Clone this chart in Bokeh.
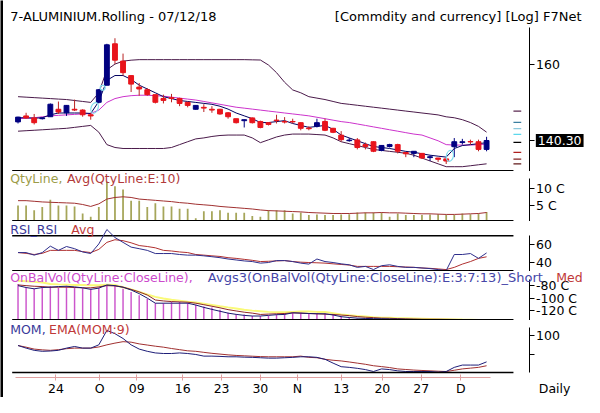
import math
from bokeh.plotting import figure
from bokeh.layouts import column, row
from bokeh.models import ColumnDataSource, Range1d, FixedTicker, Label, CustomJSTickFormatter
from bokeh.embed import file_html
from bokeh.resources import INLINE

FONT = "DejaVu Sans"

# ---------------- data ----------------
opens = [144.9, 146.4, 145.9, 145.7, 146.2, 148.1, 147.2, 148.1, 147.9, 146.7,
         149.9, 154.4, 165.9, 161.0, 157.0, 153.9, 153.2, 151.9, 150.9, 151.1,
         150.9, 149.9, 148.1, 148.6, 148.1, 148.1, 147.2, 145.7, 145.2, 145.9,
         145.0, 144.7, 145.35, 145.0, 145.0, 144.7, 143.35, 143.8, 145.0, 143.3,
         141.6, 140.25, 140.45, 139.3, 140.0, 137.9, 138.85, 139.3, 137.4, 137.2,
         137.2, 136.2, 136.1, 135.9, 138.8, 139.8, 140.05, 140.0, 138.15]
highs = [146.2, 147.2, 146.9, 146.0, 149.6, 150.1, 149.2, 150.6, 148.1, 147.2,
         153.4, 165.9, 167.5, 163.1, 157.0, 155.0, 153.6, 151.9, 151.9, 152.1,
         151.1, 149.9, 149.2, 149.4, 148.9, 148.2, 147.4, 145.7, 145.5, 146.0,
         145.2, 144.8, 146.7, 146.1, 145.7, 144.8, 143.8, 145.7, 145.7, 143.4,
         142.6, 140.9, 140.9, 139.8, 140.1, 139.2, 139.5, 139.5, 137.45, 137.7,
         137.3, 136.7, 136.15, 135.95, 140.9, 140.7, 140.5, 140.5, 141.2]
lows = [144.5, 145.7, 144.25, 145.5, 146.2, 146.9, 146.4, 147.65, 146.2, 145.45,
        149.6, 154.4, 160.2, 157.0, 152.6, 151.6, 151.6, 149.6, 149.6, 149.9,
        148.9, 148.6, 148.0, 147.4, 147.2, 146.7, 145.7, 144.5, 143.5, 144.5,
        143.3, 144.0, 144.5, 144.5, 144.5, 142.8, 142.8, 143.5, 142.6, 142.1,
        140.0, 140.0, 138.15, 138.15, 137.5, 137.7, 138.6, 137.2, 136.3, 136.3,
        135.9, 135.4, 135.2, 134.7, 136.3, 139.3, 139.3, 137.7, 137.7]
closes = [146.1, 145.9, 144.7, 145.9, 149.4, 147.4, 149.1, 147.9, 146.7, 146.4,
          153.2, 165.6, 161.25, 157.8, 154.7, 153.4, 151.9, 149.9, 150.4, 150.9,
          149.6, 149.1, 149.1, 148.4, 147.9, 146.9, 146.2, 144.7, 145.45, 144.7,
          143.5, 144.25, 145.2, 144.85, 144.9, 143.3, 143.2, 144.7, 142.8, 142.3,
          140.5, 140.4, 138.6, 138.85, 137.7, 139.1, 139.3, 137.7, 137.1, 137.7,
          136.1, 136.4, 135.8, 135.4, 140.0, 140.0, 139.95, 138.15, 140.3]

bb_upper = [151.37, 151.24, 151.12, 150.99, 150.87, 150.74, 150.62, 150.37, 150.12, 149.87,
            152.39, 158.58, 160.17, 160.98, 161.25, 161.4, 161.4, 161.4, 161.4, 161.4,
            161.4, 161.4, 161.4, 161.4, 161.4, 161.4, 161.4, 161.4, 161.4, 161.35,
            161.3, 159.91, 157.8, 155.19, 153.15, 152.39, 151.37, 150.99, 150.62, 150.12,
            149.62, 149.38, 149.13, 148.88, 148.63, 148.39, 148.14, 147.89, 147.64, 147.4,
            147.15, 146.91, 146.66, 146.18, 145.94, 145.45, 144.73, 143.77, 142.34]
bb_mid = [145.7, 145.82, 145.94, 146.18, 146.42, 146.55, 146.67, 146.79, 146.91, 147.03,
          147.89, 149.87, 150.87, 151.37, 151.63, 151.75, 151.75, 151.63, 151.5, 151.24,
          150.99, 150.74, 150.49, 150.12, 149.75, 149.38, 149.0, 148.63, 148.39, 148.14,
          147.89, 147.64, 147.4, 147.15, 146.91, 146.67, 146.42, 146.06, 145.7, 145.33,
          144.97, 144.73, 144.37, 144.01, 143.65, 143.29, 142.93, 142.58, 142.22, 141.87,
          141.63, 140.93, 140.23, 139.3, 139.19, 139.19, 139.19, 139.3, 139.42]
bb_lower = [142.58, 142.7, 142.81, 142.93, 143.05, 143.17, 143.29, 143.53, 143.77, 144.01,
            142.34, 139.3, 138.61, 138.37, 138.37, 138.37, 138.37, 138.37, 138.37, 138.61,
            139.3, 140.0, 140.69, 140.93, 141.28, 141.52, 141.63, 141.63, 141.63, 140.93,
            139.77, 140.46, 141.16, 141.63, 141.87, 141.87, 141.87, 141.75, 141.63, 140.93,
            140.0, 139.53, 139.07, 138.61, 138.14, 137.91, 137.68, 137.46, 137.23, 136.77,
            136.09, 135.41, 134.74, 134.07, 134.07, 134.07, 134.29, 134.52, 134.74]
fast_avg = [145.94, 145.94, 145.82, 145.94, 146.67, 147.15, 147.15, 147.15, 147.15, 147.03,
            150.12, 155.71, 157.02, 157.02, 155.97, 154.42, 153.4, 152.39, 151.37, 150.87,
            150.37, 150.12, 149.87, 149.62, 149.38, 148.88, 148.14, 147.15, 146.42, 145.7,
            144.73, 144.73, 144.97, 145.21, 144.49, 144.01, 143.53, 143.77, 144.01, 143.05,
            141.63, 140.93, 140.23, 139.53, 138.84, 138.61, 138.37, 138.02, 137.68, 137.46,
            137.11, 136.77, 136.54, 136.32, 138.37, 139.07, 139.3, 139.53, 139.77]

signal_x = [9.48, 10.48, 53.46]
signal_y = [148.46, 153.73, 136.61]
last_price = 140.30
side_levels = [147.64, 144.80, 143.22, 141.80, 139.84, 137.46, 135.86, 134.74]
side_colors = ["#5a2850", "#3c7fa0", "#8cc8dc", "#5cd8ec", "#000000", "#b02020", "#802020", "#601818"]

qty = [4.90, 4.90, 3.43, 4.41, 6.67, 4.90, 4.90, 4.61, 2.45, 1.47,
       4.41, 12.25, 10.78, 9.80, 6.37, 6.37, 4.41, 5.59, 4.61, 4.61,
       3.92, 3.92, 0.98, 3.14, 3.14, 3.43, 2.65, 2.65, 2.65, 1.67,
       1.47, 3.43, 3.43, 3.43, 2.45, 2.75, 1.96, 2.16, 1.96, 1.96,
       2.16, 2.25, 2.75, 2.75, 2.75, 2.75, 1.47, 2.45, 1.96, 1.96,
       1.96, 2.16, 2.25, 1.96, 1.96, 2.45, 2.25, 2.45, 2.94]
qty_avg = [6.37, 6.37, 6.18, 5.98, 5.88, 5.78, 5.69, 5.59, 5.20, 4.61,
           5.39, 6.86, 7.35, 7.55, 7.35, 6.86, 6.67, 6.47, 6.27, 6.08,
           5.78, 5.59, 5.29, 5.10, 4.90, 4.61, 4.41, 4.22, 4.02, 3.82,
           3.53, 3.33, 3.24, 3.14, 3.04, 2.94, 2.75, 2.65, 2.55, 2.45,
           2.45, 2.45, 2.55, 2.65, 2.65, 2.75, 2.65, 2.65, 2.55, 2.45,
           2.35, 2.35, 2.25, 2.16, 2.16, 2.25, 2.35, 2.45, 2.75]

rsi = [50.9, 50.9, 48.0, 50.9, 58.2, 53.4, 57.8, 55.3, 51.6, 49.8,
       60.7, 77.1, 68.0, 62.5, 57.1, 55.3, 53.4, 49.8, 49.8, 49.8,
       48.7, 48.0, 48.0, 47.2, 46.2, 45.1, 43.6, 42.5, 41.4, 40.7,
       38.9, 39.6, 41.8, 41.8, 40.7, 38.9, 37.8, 43.6, 40.7, 39.6,
       38.1, 37.0, 34.1, 35.2, 31.6, 36.0, 37.0, 35.2, 34.1, 34.1,
       33.4, 32.7, 31.6, 30.5, 48.7, 48.7, 49.8, 44.3, 50.5]
rsi_avg = [50.9, 50.0, 48.7, 50.0, 53.4, 53.4, 53.4, 53.4, 52.0, 50.9,
           54.5, 62.5, 65.5, 64.4, 62.0, 58.9, 57.8, 56.3, 53.4, 52.7,
           51.6, 50.9, 48.7, 48.0, 47.2, 46.5, 45.1, 44.3, 43.2, 42.1,
           40.7, 41.0, 41.4, 41.8, 40.7, 40.0, 39.6, 39.3, 38.9, 38.1,
           37.4, 36.7, 35.2, 35.2, 35.2, 35.2, 35.2, 34.8, 34.5, 34.1,
           33.4, 33.0, 32.3, 31.6, 34.1, 37.8, 40.7, 44.3, 46.1]

obv = [-77.4, -83.5, -85.1, -81.0, -81.0, -83.5, -80.0, -82.5, -84.0, -85.1,
       -83.5, -78.4, -80.0, -85.1, -90.2, -95.3, -101.5, -108.1, -108.1, -105.6,
       -105.6, -107.1, -110.7, -113.3, -114.8, -118.4, -123.5, -126.1, -126.1, -128.6,
       -128.6, -127.6, -126.1, -123.5, -123.5, -123.5, -124.6, -124.6, -124.6, -126.1,
       -128.6, -131.2, -132.2, -132.2, -133.8, -132.2, -133.8, -133.8, -133.8, -133.8,
       -133.8, -134.8, -134.8, -134.8, -133.8, -133.8, -133.8, -133.8, -133.8]
obv_long = [-72.3, -73.0, -74.0, -75.0, -77.4, -78.0, -78.4, -79.0, -79.0, -79.5,
            -79.5, -78.4, -79.0, -82.5, -86.0, -90.0, -94.3, -98.0, -100.5, -102.5,
            -104.0, -105.6, -107.0, -109.0, -111.0, -113.0, -114.8, -116.5, -118.5, -120.0,
            -121.0, -122.0, -122.5, -122.5, -122.0, -121.5, -121.5, -122.0, -122.0, -124.0,
            -126.0, -127.5, -128.6, -129.5, -130.5, -131.2, -131.5, -132.0, -132.2, -132.5,
            -132.8, -133.3, -133.8, -133.8, -134.0, -134.3, -134.5, -134.8, -134.8]
obv_short = [-80.0, -83.0, -85.1, -83.0, -82.5, -81.5, -81.0, -82.0, -83.5, -86.0,
             -84.0, -78.9, -80.0, -82.5, -87.0, -92.8, -100.0, -108.1, -108.1, -108.1,
             -108.1, -108.1, -111.0, -114.8, -118.0, -121.0, -124.0, -126.0, -127.6, -128.6,
             -128.6, -127.6, -126.5, -126.1, -123.5, -124.0, -124.6, -125.0, -125.1, -127.0,
             -129.7, -131.0, -132.0, -132.5, -132.8, -133.0, -133.3, -133.5, -133.8, -134.0,
             -134.1, -134.2, -134.3, -134.3, -134.3, -134.3, -134.3, -134.3, -134.3]
obv_med = [-78.9, -80.0, -81.0, -81.5, -82.5, -82.5, -82.5, -83.0, -83.5, -83.5,
           -82.0, -80.0, -80.5, -82.5, -86.0, -90.0, -95.0, -103.0, -104.5, -105.5,
           -106.0, -106.5, -108.1, -110.5, -113.0, -115.5, -118.4, -120.5, -122.5, -124.0,
           -126.1, -125.5, -125.0, -124.6, -123.5, -124.0, -124.6, -125.1, -125.6, -126.1,
           -127.1, -128.0, -129.5, -130.5, -131.2, -132.0, -132.2, -132.8, -133.2, -133.5,
           -133.8, -133.8, -133.8, -134.0, -134.1, -134.3, -134.3, -134.3, -134.3]

mom = [94.75, 93.4, 92.25, 91.75, 91.9, 92.25, 93.4, 94.25, 93.4, 93.4,
       95.1, 102.6, 100.9, 98.4, 95.1, 92.9, 91.75, 90.9, 90.6, 90.6,
       90.9, 90.6, 90.1, 89.25, 89.25, 89.1, 88.9, 88.9, 88.7, 88.6,
       88.4, 88.2, 88.2, 88.4, 88.6, 88.9, 88.9, 88.6, 87.6, 85.6,
       83.75, 83.4, 82.9, 82.25, 81.25, 82.6, 82.25, 81.6, 81.25, 81.25,
       81.25, 81.25, 80.9, 81.25, 83.4, 84.6, 84.6, 84.6, 86.25]
mom_ema = [94.75, 93.9, 92.9, 92.5, 92.25, 92.6, 93.1, 93.4, 93.4, 93.4,
           94.0, 95.1, 96.0, 96.75, 96.5, 95.6, 95.0, 94.4, 93.9, 93.2,
           92.6, 92.0, 91.75, 91.2, 90.7, 90.3, 89.9, 89.6, 89.4, 89.2,
           89.0, 88.9, 88.9, 88.9, 88.9, 89.25, 88.6, 88.4, 87.6, 87.1,
           86.75, 86.2, 85.6, 85.0, 84.25, 83.8, 83.3, 82.6, 82.3, 82.0,
           81.8, 81.6, 81.4, 81.25, 81.9, 82.6, 83.0, 83.4, 84.25]

tick_labels = ["24", "O", "09", "16", "23", "30", "N", "13", "20", "27", "D"]
tick_pos = [4.7, 10.1, 14.7, 20.4, 25.2, 30.0, 34.6, 40.0, 45.1, 49.9, 54.8]

# ---------------- layout helpers (reference pixel geometry) ----------------
SX = 584 / 600.0
STRIP = 3
FIG_W = 581


def idx(xref):
    return (xref - 18.0) / 8.3


def scr(xref):
    return xref * SX - STRIP


def lin(yref, top, bot, vtop, vbot):
    return vbot + (bot - yref) / (bot - top) * (vtop - vbot)


def logv(yref, top, bot, vtop, vbot):
    a, b = math.log(vbot), math.log(vtop)
    return math.exp(a + (bot - yref) / (bot - top) * (b - a))


# panel frames: (top px, bottom px, value at top, value at bottom) in reference pixels
P_RNG = (5, 178, 177.28, 132.96)
Q_RNG = (178, 230, 15.29, 0.0)
R_RNG = (230, 282, 86.2, 29.4)
O_RNG = (282, 333, -57.4, -135.8)
M_RNG = (333, 413, 107.75, 67.75)

n = len(closes)
xs = list(range(n))
X_RANGE = Range1d(idx(3 / SX), idx(600))
AXIS_X = idx(543)
XL, XR = idx(12), idx(527)


def base_fig(h, **kw):
    p = figure(width=FIG_W, height=h, toolbar_location=None, output_backend="svg",
               min_border=0, outline_line_color=None,
               background_fill_color="white", border_fill_color="white", **kw)
    p.grid.visible = False
    return p


def panel(h, rng, log=False, bottom_axis=False):
    top, bot, vtop, vbot = rng
    p = base_fig(h, x_range=X_RANGE, y_range=Range1d(vbot, vtop),
                 y_axis_type="log" if log else "linear",
                 y_axis_location="right", x_axis_location="below" if bottom_axis else None)
    ax = p.yaxis[0]
    ax.fixed_location = AXIS_X
    ax.minor_tick_line_color = None
    ax.major_tick_in = 0
    ax.major_tick_out = 5
    ax.axis_line_color = "black"
    ax.major_tick_line_color = "black"
    ax.major_label_text_font = FONT
    ax.major_label_text_font_size = "12.5px"
    ax.major_label_text_color = "black"
    ax.major_label_standoff = 2
    return p


def sep(p, yval, w=1.6, color="black"):
    p.segment(x0=[XL], x1=[XR], y0=[yval], y1=[yval], line_color=color, line_width=w)


def label(p, cx, yval, text, color, size="12.5px", align="left", **kw):
    p.add_layout(Label(x=cx, y=yval, x_units="screen", text=text, text_color=color,
                       text_font=FONT, text_font_size=size, text_align=align,
                       text_baseline="middle", level="overlay", **kw))


# ---------------- top band ----------------
band = base_fig(5, x_range=Range1d(0, 1), y_range=Range1d(0, 1), x_axis_location=None,
                y_axis_location=None)
band.background_fill_color = "black"
band.border_fill_color = "black"

# ---------------- price panel (with title row) ----------------
pp = panel(166, P_RNG, log=True)
up = [c >= o for o, c in zip(opens, closes)]
src = ColumnDataSource(dict(
    x=xs, high=highs, low=lows,
    top=[max(o, c) for o, c in zip(opens, closes)],
    bottom=[min(o, c) for o, c in zip(opens, closes)],
    body=["#000080" if u else "#e8141c" for u in up],
    wick=["#000080" if u else "#b82424" for u in up],
))
pp.line(xs, bb_upper, line_color="#4a1a4a", line_width=1)
pp.line(xs, bb_lower, line_color="#4a1a4a", line_width=1)
pp.line(xs, bb_mid, line_color="#cc33cc", line_width=1)
pp.line(xs, fast_avg, line_color="#000060", line_width=1)
pp.segment(x0="x", x1="x", y0="high", y1="low", line_color="wick", line_width=1, source=src)
pp.vbar(x="x", top="top", bottom="bottom", width=0.6, fill_color="body", line_color="body",
        line_width=1, source=src)
pp.ellipse(x=signal_x, y=signal_y, width=[7, 5, 7], height=[11, 5, 11], width_units="screen",
           height_units="screen", angle=[-0.35, 0, -0.2], fill_color=None,
           line_color="#7fdcec", line_width=1.2)
pp.segment(x0=[idx(527)] * len(side_levels), x1=[idx(535)] * len(side_levels),
           y0=side_levels, y1=side_levels, line_color=side_colors, line_width=1.3)
sep(pp, logv(177.3, *P_RNG))
pax = pp.yaxis[0]
pax.ticker = FixedTicker(ticks=[160, last_price])
pax.formatter = CustomJSTickFormatter(code="return tick > 150 ? tick.toFixed(0) : '';")
pax.bounds = (P_RNG[3], logv(28, *P_RNG))
label(pp, scr(550), last_price, "140.30", "white", background_fill_color="black", padding=2)
ty = logv(16, *P_RNG)
label(pp, scr(10), ty, "7-ALUMINIUM.Rolling - 07/12/18", "black", size="13px")
label(pp, scr(597), ty, "[Commdity and currency] [Log] F7Net", "black", size="13px", align="right")

# ---------------- quantity panel ----------------
qp = panel(50, Q_RNG)
qp.vbar(x=xs, top=qty, bottom=0, width=0.22, fill_color="#a6a65a", line_color=None)
qp.line(xs, qty_avg, line_color="#a03030", line_width=1)
sep(qp, lin(229.3, *Q_RNG))
qax = qp.yaxis[0]
qax.ticker = FixedTicker(ticks=[0, 5, 10])
qax.major_label_overrides = {0: "", 5: "5 C", 10: "10 C"}
qax.bounds = (0, lin(185, *Q_RNG))
qy = lin(185, *Q_RNG)
label(qp, scr(10), qy, "QtyLine,", "#9c9c48")
label(qp, 63.5, qy, "Avg(QtyLine:E:10)", "#b23a3a")

# ---------------- RSI panel ----------------
rp = panel(50, R_RNG)
sep(rp, 70)
rp.line(xs, rsi_avg, line_color="#b03030", line_width=1)
rp.line(xs, rsi, line_color="#2e2e8c", line_width=1)
sep(rp, lin(281.3, *R_RNG))
rax = rp.yaxis[0]
rax.ticker = FixedTicker(ticks=[40, 60])
rax.bounds = (R_RNG[3], lin(245, *R_RNG))
ry = lin(238, *R_RNG)
label(rp, scr(10), ry, "RSI_RSI", "#3a3a9a")
label(rp, scr(72.7), ry, "Avg", "#c03838")

# ---------------- OBV panel ----------------
op = panel(49, O_RNG)
op.vbar(x=xs, top=obv, bottom=O_RNG[3], width=0.18, fill_color="#cc55cc", line_color=None)
op.line(xs, obv_long, line_color="#fafa78", line_width=2)
op.line(xs, obv_med, line_color="#902828", line_width=1)
op.line(xs, obv_short, line_color="#1a1a70", line_width=1)
sep(op, lin(332.3, *O_RNG))
oax = op.yaxis[0]
oax.ticker = FixedTicker(ticks=[-120, -100, -80])
oax.major_label_overrides = {-120: "-120 C", -100: "-100 C", -80: "-80 C"}
oax.bounds = (O_RNG[3], lin(290, *O_RNG))
oy = lin(288, *O_RNG)
label(op, scr(10), oy, "OnBalVol(QtyLine:CloseLine),", "#cc4acc")
label(op, scr(213), oy, "Avgs3(OnBalVol(QtyLine:CloseLine):E:3:7:13)_Short", "#4646a8", size="13px")
label(op, scr(571), oy, "Med", "#c03838")

# ---------------- MOM panel (with date axis) ----------------
mp = panel(77, M_RNG, bottom_axis=True)
mp.line(xs, mom_ema, line_color="#a03030", line_width=1)
mp.line(xs, mom, line_color="#1e1e78", line_width=1)
sep(mp, lin(387, *M_RNG))
max_ = mp.yaxis[0]
max_.ticker = FixedTicker(ticks=[90, 100])
max_.major_label_overrides = {90: "", 100: "100"}
max_.bounds = (lin(387, *M_RNG), lin(340, *M_RNG))
my = lin(342, *M_RNG)
label(mp, scr(10), my, "MOM,", "#3a3a9a")
label(mp, 45.5, my, "EMA(MOM:9)", "#c03838")
label(mp, scr(553), lin(403.5, *M_RNG), "Daily", "black")
xa = mp.xaxis[0]
xa.fixed_location = lin(392.5, *M_RNG)
xa.ticker = FixedTicker(ticks=tick_pos)
xa.formatter = CustomJSTickFormatter(args=dict(pos=tick_pos, lab=tick_labels), code="""
let best = 0, d = 1e9;
for (let k = 0; k < pos.length; k++) { const e = Math.abs(pos[k] - tick); if (e < d) { d = e; best = k; } }
return lab[best];
""")
xa.axis_line_color = "#e0a0a0"
xa.major_tick_line_color = "#e0a0a0"
xa.minor_tick_line_color = None
xa.major_tick_in = 3
xa.major_tick_out = 3
xa.major_label_standoff = 0
xa.major_label_text_font = FONT
xa.major_label_text_font_size = "12.5px"
xa.major_label_text_color = "black"
xa.bounds = (idx(15), idx(503))

# ---------------- left strip ----------------
strip = figure(width=STRIP, height=397, toolbar_location=None, output_backend="svg",
               x_axis_location=None, y_axis_location=None, min_border=0,
               background_fill_color="black", border_fill_color="black", outline_line_color=None)
strip.grid.visible = False

layout = row(strip, column(band, pp, qp, rp, op, mp, spacing=0), spacing=0)
open("out.html", "w").write(file_html(layout, INLINE))
